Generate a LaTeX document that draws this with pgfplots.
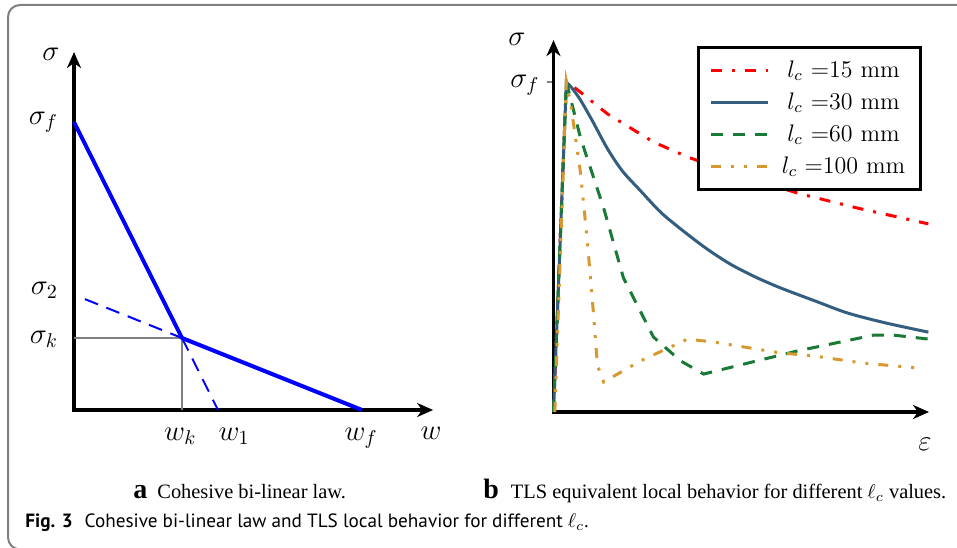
\documentclass[border=0pt]{standalone}
\usepackage{fontspec}
\newfontfamily\capserif{Liberation Serif}
\newfontfamily\capsans{PT Sans}
\usepackage{pgfplots}
\pgfplotsset{compat=1.18}
\usetikzlibrary{arrows.meta}
\definecolor{cRed}{RGB}{255,0,0}
\definecolor{cBlue}{RGB}{52,94,128}
\definecolor{cGreen}{RGB}{24,122,52}
\definecolor{cOrange}{RGB}{216,152,48}
\definecolor{frameGray}{RGB}{128,128,128}
\begin{document}
\begin{tikzpicture}
\useasboundingbox (0,0) rectangle (478.5pt,273.5pt);
\begin{scope}
\clip (0,0) rectangle (478.5pt,273.5pt);
\draw[rounded corners=6pt, line width=1pt, frameGray] (4pt,-1.2pt) rectangle (495pt,271pt);
\end{scope}

% Panel a
\begin{axis}[
  at={(37pt,68.5pt)}, anchor=south west,
  x=144pt, y=144pt, xmin=0, xmax=1.247, ymin=0, ymax=1.243,
  axis lines=left,
  axis line style={line width=1.6pt, line cap=rect, -{Stealth[length=8pt,width=7pt,inset=2.5pt]}},
  xtick={0.369,0.556,0.997}, xticklabels={$w_k$,$w_1$,$w_f$},
  ytick={0.2465,0.415,1}, yticklabels={$\sigma_k$,$\sigma_2$,$\sigma_f$},
  major tick length=0pt,
  tick label style={font=\Large},
  xticklabel style={anchor=base, yshift=-15pt},
  yticklabel style={xshift=-4.5pt},
  clip=false,
]
\addplot[frameGray, line width=0.8pt] coordinates {(0,0.25) (0.375,0.25) (0.375,0)};
\addplot[blue, line width=1pt, dash pattern=on 7pt off 4.5pt] coordinates {(0.038,0.385) (0.375,0.25)};
\addplot[blue, line width=1pt, dash pattern=on 7pt off 4.5pt] coordinates {(0.375,0.25) (0.5,0)};
\addplot[blue, line width=2pt] coordinates {(0,1) (0.375,0.25) (1,0)};
\node[font=\Large] at (axis cs:-0.08,1.236) {$\sigma$};
\node[font=\Large, anchor=base] at (axis cs:1.24,-0.104) {$w$};
\end{axis}

% Panel b
\begin{axis}[
  at={(276.75pt,67.5pt)}, anchor=south west,
  x=165pt, y=165pt, xmin=0, xmax=1.138, ymin=0, ymax=1.127,
  axis lines=left,
  axis line style={line width=1.6pt, line cap=rect, -{Stealth[length=8pt,width=7pt,inset=2.5pt]}},
  xtick=\empty,
  ytick={1}, yticklabels={$\sigma_f$},
  tick align=outside, major tick length=3.5pt,
  ytick style={frameGray, line width=0.6pt},
  tick label style={font=\Large},
  yticklabel style={yshift=-1.5pt},
  clip=false,
  legend image code/.code={\draw[#1] (0pt,0pt) -- (28.5pt,0pt);},
  legend style={at={(axis cs:0.435,1.109)}, anchor=north west, draw=black, line width=1.5pt,
    inner xsep=5.5pt, inner ysep=3.5pt, row sep=0pt, column sep=4pt,
    font=\fontsize{12}{14}\selectfont,
    nodes={inner sep=0pt, minimum height=16pt, text width=66pt, align=center}},
]
\addplot[cRed, line width=1.5pt, dash pattern=on 5.5pt off 5pt on 1.5pt off 5pt] coordinates {
(0,0) (0.039,1.000) (0.073,0.976) (0.164,0.903) (0.303,0.818) (0.406,0.773) (0.567,0.715) (0.748,0.661) (0.921,0.618) (1.136,0.570)};
\addlegendentry{$l_c =$15 mm}
\addplot[cBlue, line width=1.5pt, forget plot] coordinates {(0,0) (0.039,1.000)};
\addplot[cBlue, line width=1.5pt, smooth] coordinates {
(0.039,1.000) (0.058,0.979) (0.082,0.945) (0.118,0.882) (0.164,0.797) (0.209,0.730) (0.264,0.670) (0.324,0.606) (0.385,0.555) (0.461,0.497) (0.536,0.448) (0.612,0.409) (0.688,0.376) (0.794,0.336) (0.891,0.300) (1.006,0.270) (1.136,0.242)};
\addlegendentry{$l_c =$30 mm}
\addplot[cGreen, line width=1.5pt, dash pattern=on 6pt off 5pt] coordinates {
(0,0) (0.039,1.000) (0.082,0.830) (0.152,0.618) (0.212,0.406) (0.303,0.227) (0.385,0.155) (0.455,0.115) (0.588,0.148) (0.739,0.185) (0.970,0.233) (1.030,0.233) (1.136,0.221)};
\addlegendentry{$l_c =$60 mm}
\addplot[cOrange, line width=1.5pt, dash pattern=on 5pt off 5pt on 1.5pt off 5pt on 1.5pt off 5pt] coordinates {
(0.004,0) (0.039,1.000) (0.052,0.933) (0.082,0.724) (0.103,0.512) (0.121,0.300) (0.133,0.142) (0.152,0.091) (0.264,0.155) (0.406,0.221) (0.485,0.212) (0.688,0.179) (0.788,0.170) (0.939,0.148) (1.112,0.133)};
\addlegendentry{$l_c =$100 mm}
\node[font=\Large] at (axis cs:-0.111,1.13) {$\sigma$};
\node[font=\Large] at (axis cs:1.126,-0.097) {$\varepsilon$};
\end{axis}

% Captions
\node[anchor=base west, inner sep=0pt] at (66.5pt,24.5pt) {\capserif\fontsize{14}{14}\selectfont\bfseries a\hspace{5pt}\fontsize{10.2}{12}\selectfont\mdseries Cohesive bi-linear law.};
\node[anchor=base west, inner sep=0pt] at (241.5pt,24.5pt) {\capserif\fontsize{14}{14}\selectfont\bfseries b\hspace{6pt}\fontsize{10.2}{12}\selectfont\mdseries TLS equivalent local behavior for different $\ell_c$ values.};
\node[anchor=base west, inner sep=0pt] at (12.5pt,10pt) {\capsans\fontsize{9.6}{11}\selectfont\textbf{Fig. 3}\hspace{6pt}Cohesive bi-linear law and TLS local behavior for different $\ell_c$.};
\end{tikzpicture}
\end{document}
